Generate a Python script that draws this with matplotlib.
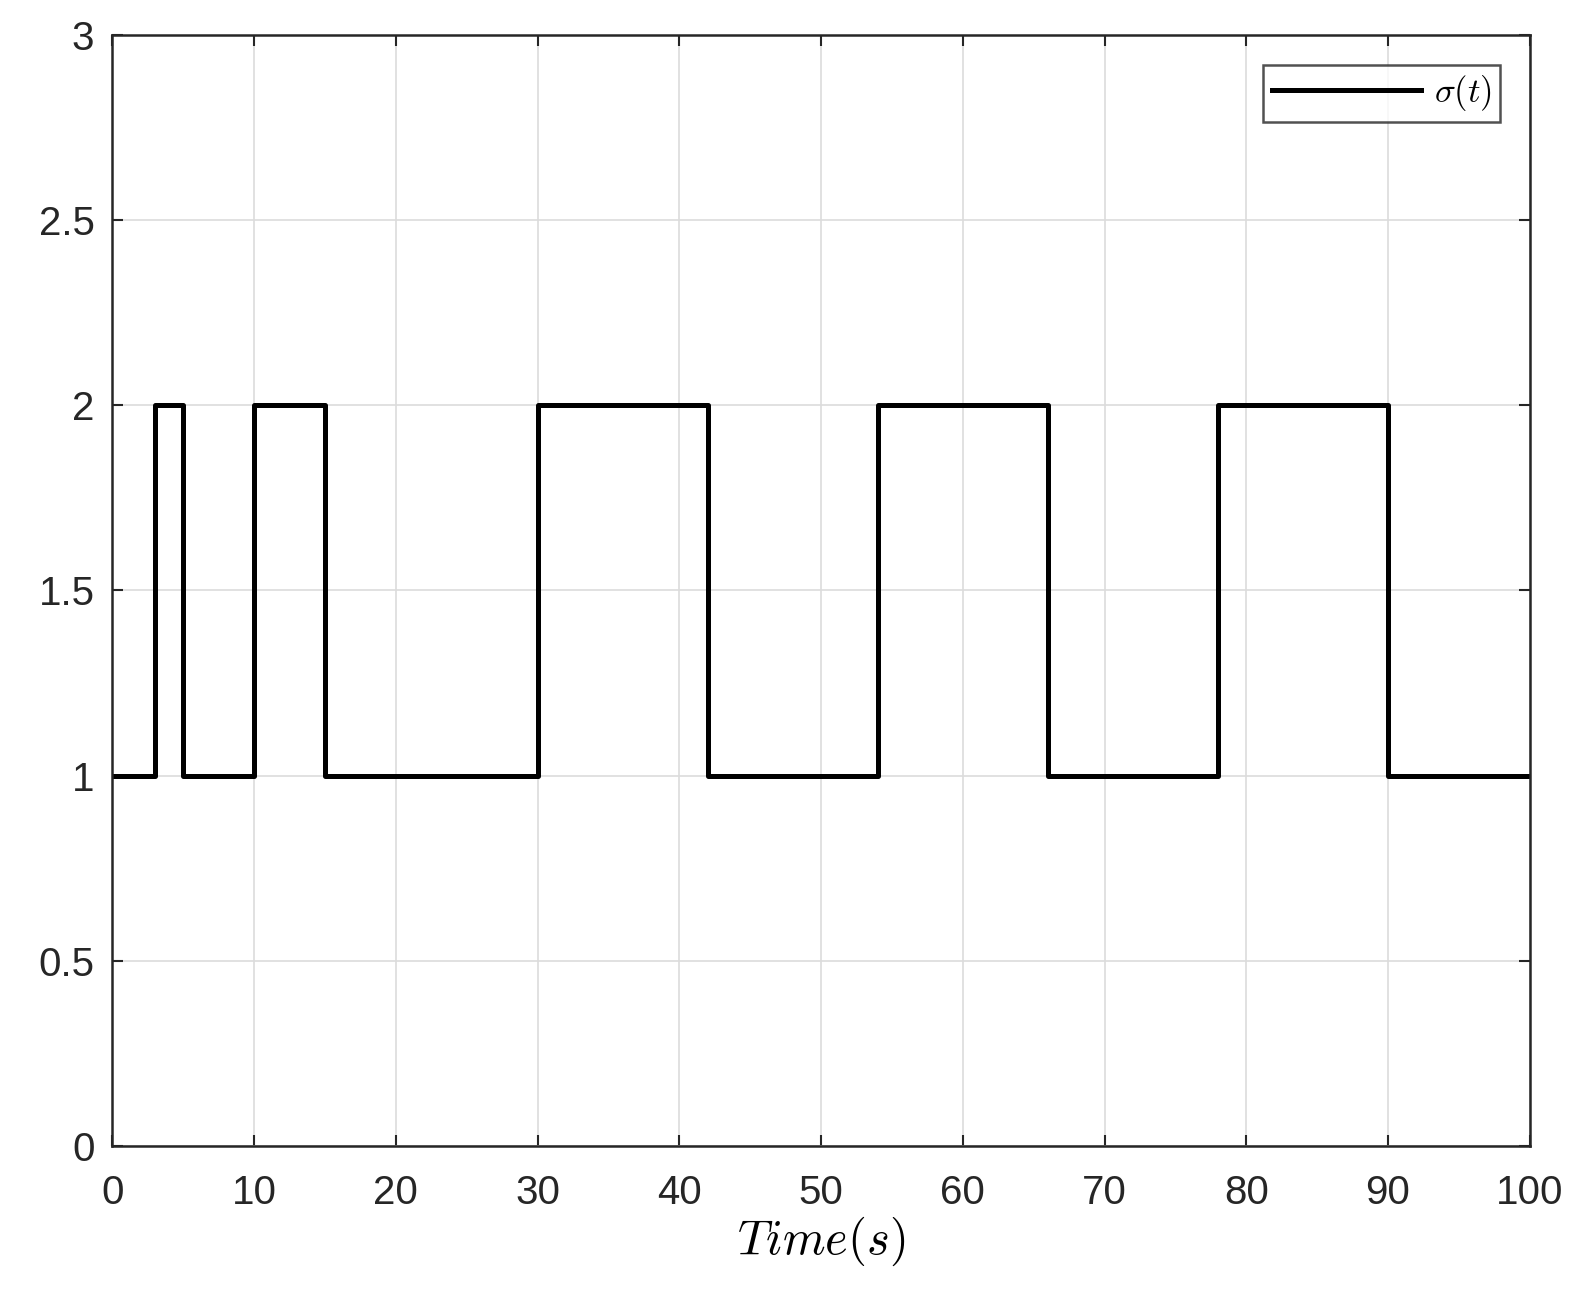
import numpy as np
import matplotlib.pyplot as plt

# switching instants and the mode held after each one
switch_times = [0, 3, 5, 10, 15, 30, 42, 54, 66, 78, 90, 100]
modes = [1, 2, 1, 2, 1, 2, 1, 2, 1, 2, 1, 1]

x_ticks = [0, 10, 20, 30, 40, 50, 60, 70, 80, 90, 100]
y_ticks = [0, 0.5, 1, 1.5, 2, 2.5, 3]

plt.rcParams['font.family'] = ['Liberation Sans', 'DejaVu Sans']
plt.rcParams['mathtext.fontset'] = 'cm'

fig = plt.figure(figsize=(15.91, 12.97), dpi=100)
ax = fig.add_axes([0.0707, 0.1165, 0.8908, 0.8565])

ax.step(switch_times, modes, where='post', color='k', linewidth=3.6, label=r'$\sigma(t)$')

ax.set_xlim(0, 100)
ax.set_ylim(0, 3)
ax.set_xticks(x_ticks)
ax.set_yticks(y_ticks)
ax.set_yticklabels(['0', '0.5', '1', '1.5', '2', '2.5', '3'])
ax.grid(True, color='#dcdcdc', linewidth=1.2)
ax.set_axisbelow(True)

for s in ax.spines.values():
    s.set_color('#262626')
    s.set_linewidth(1.8)
ax.tick_params(direction='in', length=8, width=1.5, colors='#262626',
               labelsize=29, top=True, right=True)
ax.tick_params(axis='x', pad=20)
ax.tick_params(axis='y', pad=13)

ax.set_xlabel(r'$Time(s)$', fontsize=35, labelpad=2)

leg = ax.legend(loc='upper right', fontsize=25, frameon=True, fancybox=False,
                edgecolor='#262626', handlelength=4.3, borderpad=0.25,
                borderaxespad=0.85, handletextpad=0.35)
leg.get_frame().set_linewidth(1.8)

fig.savefig('out.png', dpi=100, facecolor='white')
